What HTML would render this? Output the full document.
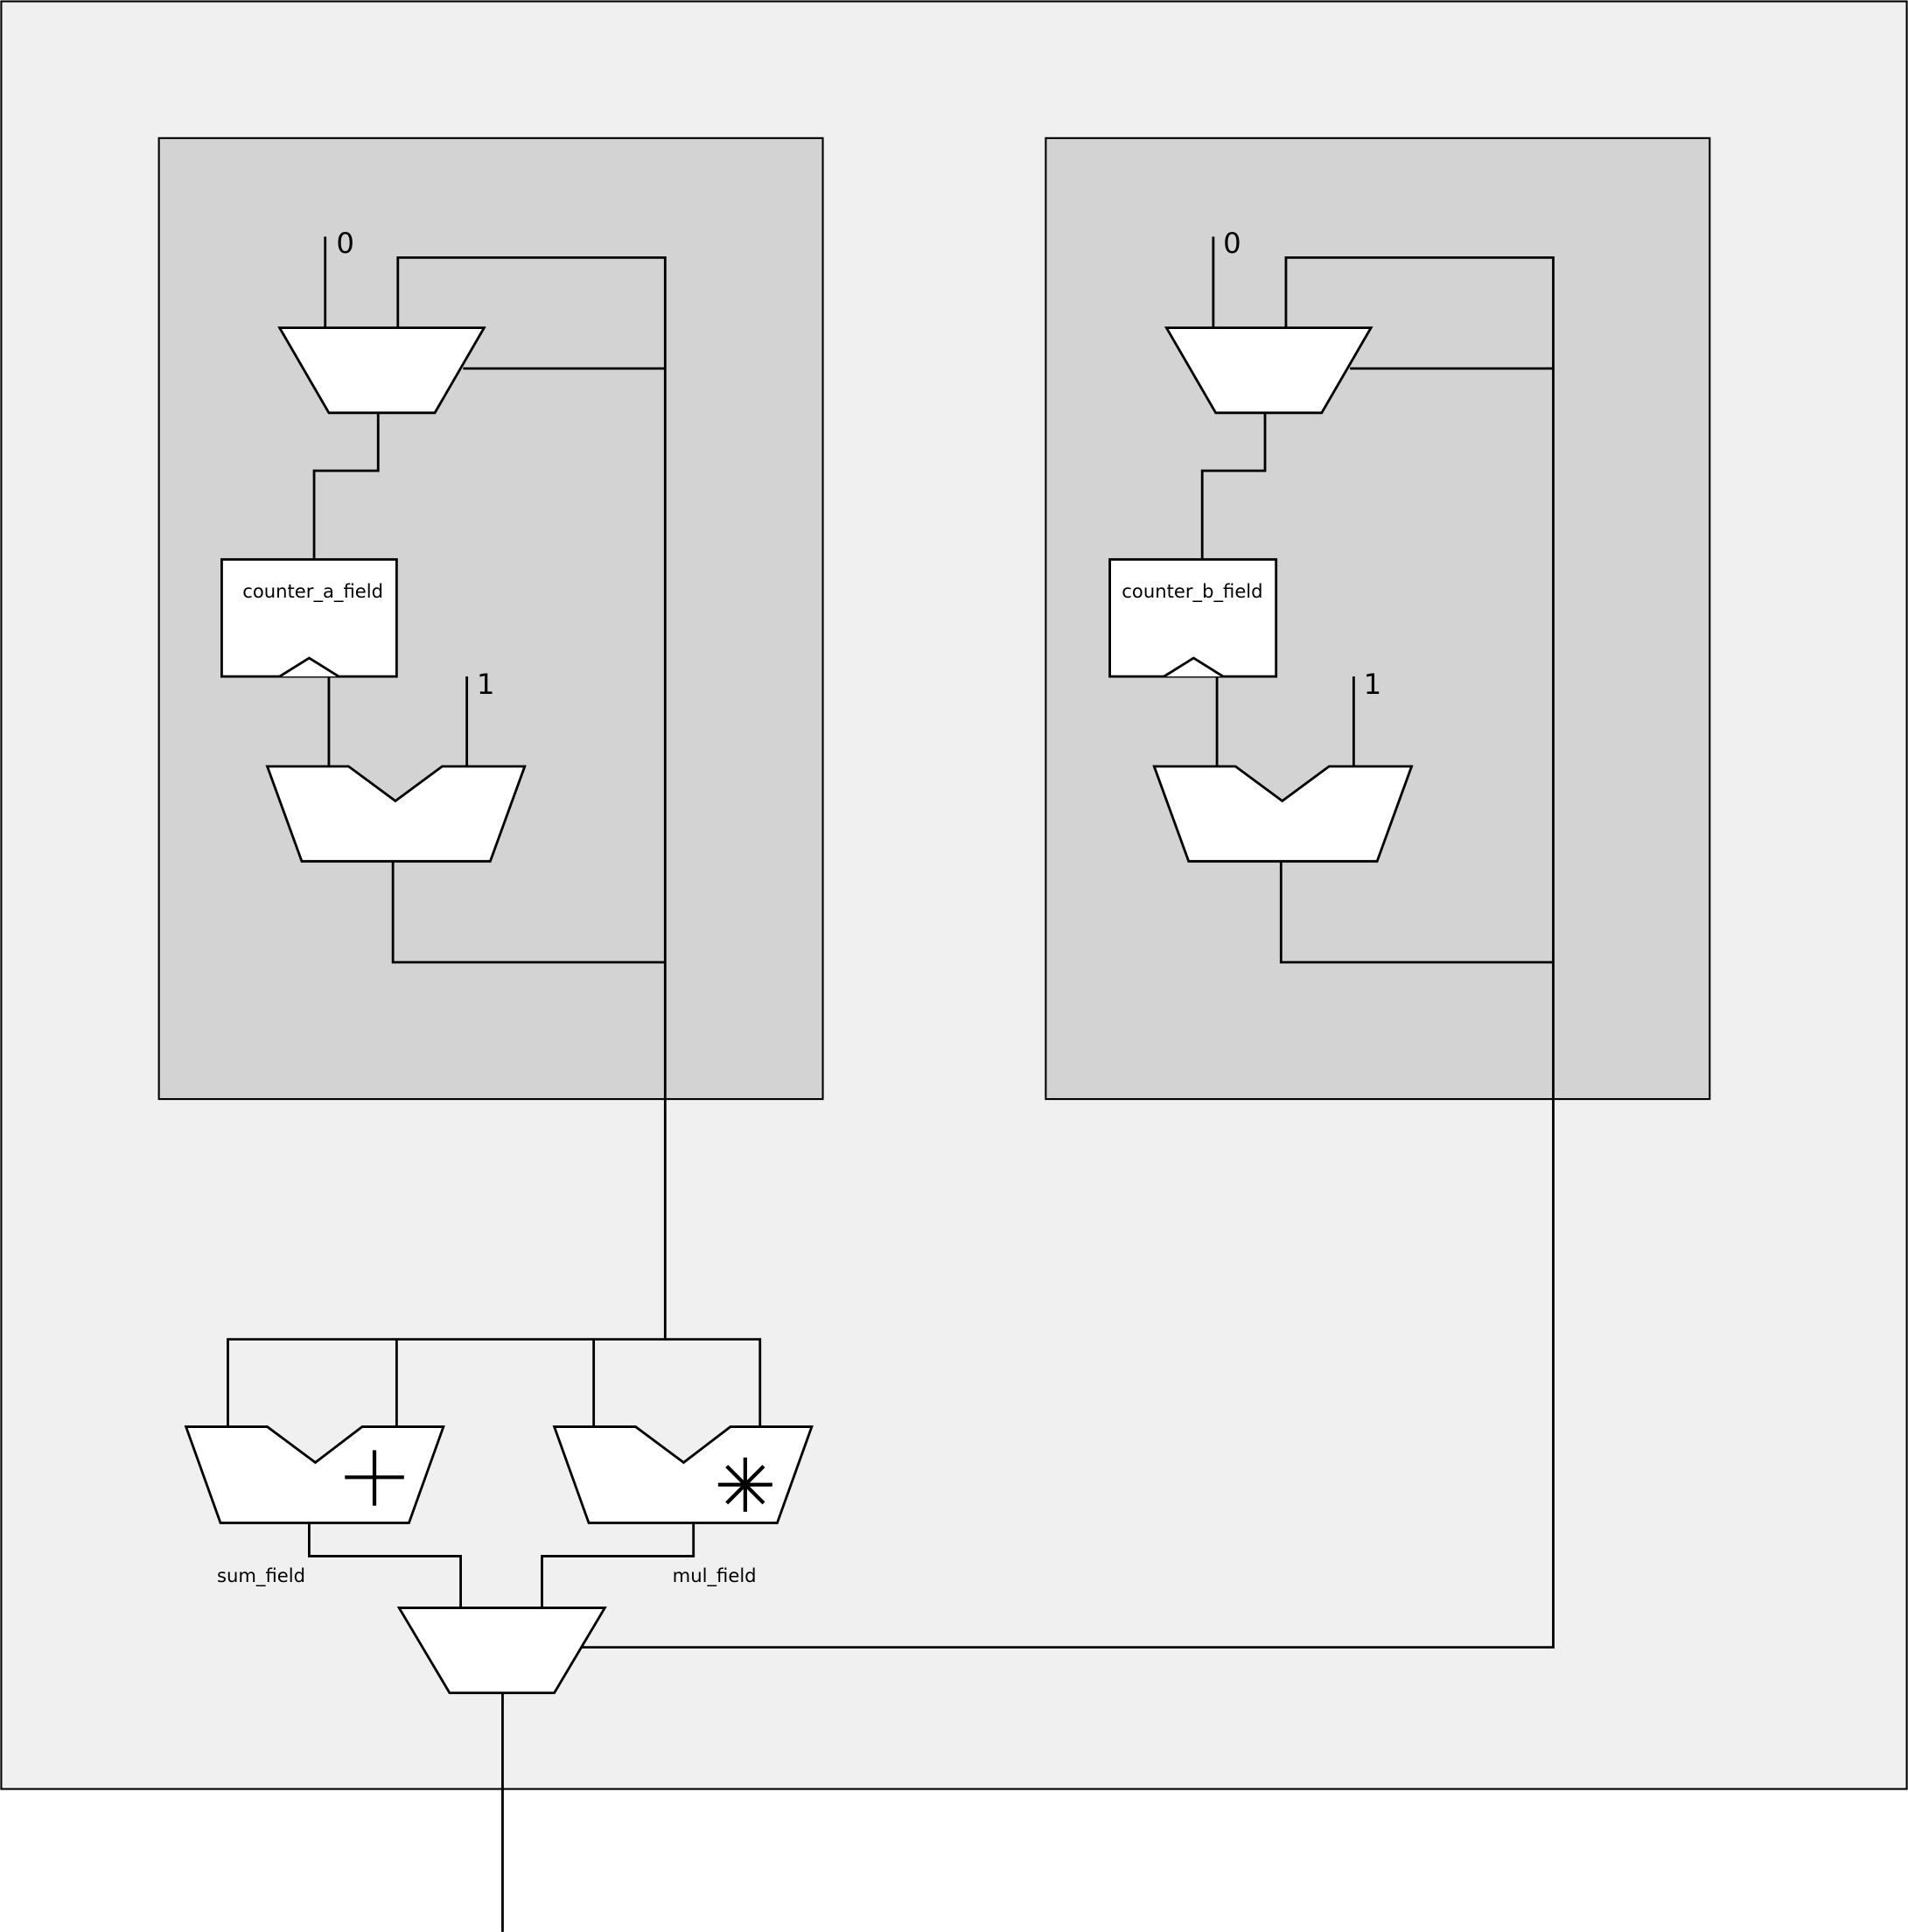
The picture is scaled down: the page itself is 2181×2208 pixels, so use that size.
<!DOCTYPE html>
<html><head><meta charset="utf-8"><style>html,body{margin:0;padding:0;background:#fff}svg{display:block}</style></head>
<body>
<svg width="2181" height="2208" viewBox="0 0 1549 1568" xmlns="http://www.w3.org/2000/svg" font-family="'DejaVu Sans','Liberation Sans',sans-serif">
<rect x="1" y="1" width="1547" height="1451" fill="#f0f0f0" stroke="#000" stroke-width="1.5"/>
<rect x="129" y="112" width="539" height="780" fill="#d3d3d3" stroke="#000" stroke-width="1.5"/>
<rect x="849" y="112" width="539" height="780" fill="#d3d3d3" stroke="#000" stroke-width="1.5"/>
<g fill="none" stroke="#000" stroke-width="2">
<line x1="264" y1="192" x2="264" y2="266"/>
<polyline points="323,266 323,209 540,209 540,1087"/>
<line x1="376" y1="299" x2="540" y2="299"/>
<polyline points="307,335 307,382 255,382 255,454"/>
<line x1="267" y1="549" x2="267" y2="622"/>
<line x1="379" y1="549" x2="379" y2="622"/>
<polyline points="319,699 319,781 540,781"/>
<line x1="985" y1="192" x2="985" y2="266"/>
<polyline points="1044,266 1044,209 1261,209 1261,1337 470,1337"/>
<line x1="1096" y1="299" x2="1261" y2="299"/>
<polyline points="1027,335 1027,382 976,382 976,454"/>
<line x1="988" y1="549" x2="988" y2="622"/>
<line x1="1099" y1="549" x2="1099" y2="622"/>
<polyline points="1040,699 1040,781 1261,781"/>
<polyline points="185,1158 185,1087 617,1087 617,1158"/>
<line x1="322" y1="1087" x2="322" y2="1158"/>
<line x1="482" y1="1087" x2="482" y2="1158"/>
<polyline points="251,1236 251,1263 374,1263 374,1305"/>
<polyline points="563,1236 563,1263 440,1263 440,1305"/>
<line x1="408" y1="1374" x2="408" y2="1568"/>
</g>
<g fill="#fff" stroke="#000" stroke-width="2">
<polygon points="227,266 393,266 353,335 267,335"/>
<polygon points="947,266 1113,266 1073,335 987,335"/>
<rect x="180" y="454" width="142" height="95"/>
<rect x="901" y="454" width="135" height="95"/>
<polyline points="227,549 251,534 275,549"/>
<polyline points="945,549 969,534 993,549"/>
<polygon points="217,622 283,622 321,650 359,622 426,622 398,699 245,699"/>
<polygon points="937,622 1003,622 1041,650 1079,622 1146,622 1118,699 965,699"/>
<polygon points="151,1158 217,1158 256,1187 294,1158 360,1158 332,1236 179,1236"/>
<polygon points="450,1158 516,1158 555,1187 593,1158 659,1158 631,1236 478,1236"/>
<polygon points="324,1305 491,1305 450,1374 365,1374"/>
</g>
<g stroke="#000" stroke-width="3">
<line x1="304" y1="1177" x2="304" y2="1222"/>
<line x1="280" y1="1199" x2="328" y2="1199"/>
<line x1="605" y1="1183" x2="605" y2="1227"/>
<line x1="583" y1="1205" x2="627" y2="1205"/>
<line x1="590" y1="1190" x2="620" y2="1220"/>
<line x1="620" y1="1190" x2="590" y2="1220"/>
</g>
<g fill="#000">
<text x="273" y="205" font-size="23">0</text>
<text x="993" y="205" font-size="23">0</text>
<text x="387" y="563" font-size="23">1</text>
<text x="1107" y="563" font-size="23">1</text>
<text x="254" y="485" font-size="15" text-anchor="middle">counter_a_field</text>
<text x="968" y="485" font-size="15" text-anchor="middle">counter_b_field</text>
<text x="212" y="1284" font-size="15" text-anchor="middle">sum_field</text>
<text x="580" y="1284" font-size="15" text-anchor="middle">mul_field</text>
</g>
</svg>
</body></html>
